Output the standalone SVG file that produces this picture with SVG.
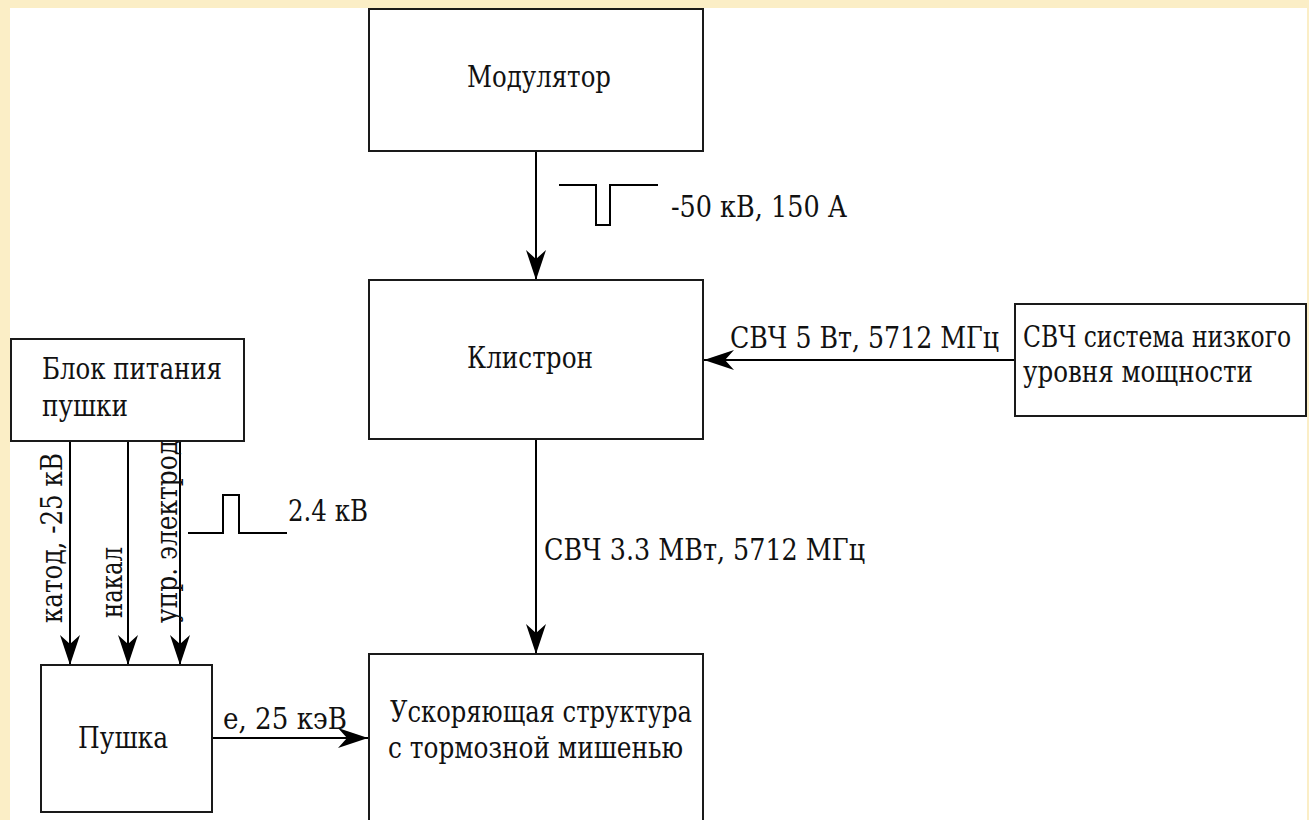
<svg xmlns="http://www.w3.org/2000/svg" width="1309" height="820" viewBox="0 0 1309 820">
<style>
.box{fill:#fff;stroke:#1a1a1a;stroke-width:2}
.ln{fill:none;stroke:#000;stroke-width:2}
.t{font-family:'DejaVu Serif Condensed','DejaVu Serif',serif;font-stretch:condensed;font-size:29px;fill:#111}
</style>
<defs>
<marker id="arr" viewBox="0 0 30 20" refX="30" refY="10" markerWidth="30" markerHeight="20" markerUnits="userSpaceOnUse" orient="auto">
<path d="M0,0 L30,10 L0,20 L9,10 Z" fill="#000"/>
</marker>
</defs>
<rect x="0" y="0" width="1309" height="820" fill="#fbeec6"/>
<rect x="10" y="8" width="1297" height="812" fill="#fff"/>
<g id="connectors">
<line class="ln" x1="536" y1="151" x2="536" y2="280" marker-end="url(#arr)"/>
<line class="ln" x1="1015" y1="360" x2="704" y2="360" marker-end="url(#arr)"/>
<line class="ln" x1="536" y1="439" x2="536" y2="654" marker-end="url(#arr)"/>
<line class="ln" x1="212" y1="738" x2="368" y2="738" marker-end="url(#arr)"/>
<line class="ln" x1="70" y1="441" x2="70" y2="665" marker-end="url(#arr)"/>
<line class="ln" x1="128" y1="441" x2="128" y2="665" marker-end="url(#arr)"/>
<line class="ln" x1="180" y1="441" x2="180" y2="665" marker-end="url(#arr)"/>
<path class="ln" d="M559,185 H596 V225 H610 V185 H658"/>
<path class="ln" d="M188,533 H223 V495 H239 V533 H287"/>
<text class="t" x="671" y="217" textLength="176" lengthAdjust="spacingAndGlyphs">-50 кВ, 150 А</text>
<text class="t" x="730" y="348" textLength="269" lengthAdjust="spacingAndGlyphs">СВЧ 5 Вт, 5712 МГц</text>
<text class="t" x="544" y="560" textLength="321" lengthAdjust="spacingAndGlyphs">СВЧ 3.3 МВт, 5712 МГц</text>
<text class="t" x="223" y="729" textLength="124" lengthAdjust="spacingAndGlyphs">е, 25 кэВ</text>
<text class="t" x="288" y="521" textLength="80" lengthAdjust="spacingAndGlyphs">2.4 кВ</text>
<text class="t" transform="translate(62,623) rotate(-90)" textLength="170" lengthAdjust="spacingAndGlyphs">катод, -25 кВ</text>
<text class="t" transform="translate(122,618) rotate(-90)" textLength="71" lengthAdjust="spacingAndGlyphs">накал</text>
<text class="t" transform="translate(177,623) rotate(-90)" textLength="183" lengthAdjust="spacingAndGlyphs">упр. электрод</text>
</g>
<g id="modulator">
<rect class="box" x="369" y="9" width="334" height="142"/>
<text class="t" x="467" y="87" textLength="144" lengthAdjust="spacingAndGlyphs">Модулятор</text>
</g>
<g id="klystron">
<rect class="box" x="369" y="280" width="334" height="159"/>
<text class="t" x="467" y="368" textLength="126" lengthAdjust="spacingAndGlyphs">Клистрон</text>
</g>
<g id="lowlevel">
<rect class="box" x="1015" y="304" width="291" height="112"/>
<text class="t" x="1023" y="347" textLength="268" lengthAdjust="spacingAndGlyphs">СВЧ система низкого</text>
<text class="t" x="1023" y="382" textLength="230" lengthAdjust="spacingAndGlyphs">уровня мощности</text>
</g>
<g id="gunpower">
<rect class="box" x="11" y="339" width="233" height="102"/>
<text class="t" x="42" y="379" textLength="180" lengthAdjust="spacingAndGlyphs">Блок питания</text>
<text class="t" x="42" y="416" textLength="86" lengthAdjust="spacingAndGlyphs">пушки</text>
</g>
<g id="gun">
<rect class="box" x="41" y="665" width="171" height="147"/>
<text class="t" x="78" y="748" textLength="90" lengthAdjust="spacingAndGlyphs">Пушка</text>
</g>
<g id="accel">
<rect class="box" x="369" y="654" width="334" height="180"/>
<text class="t" x="390" y="722" textLength="302" lengthAdjust="spacingAndGlyphs">Ускоряющая структура</text>
<text class="t" x="388" y="758" textLength="295" lengthAdjust="spacingAndGlyphs">с тормозной мишенью</text>
</g>
</svg>
